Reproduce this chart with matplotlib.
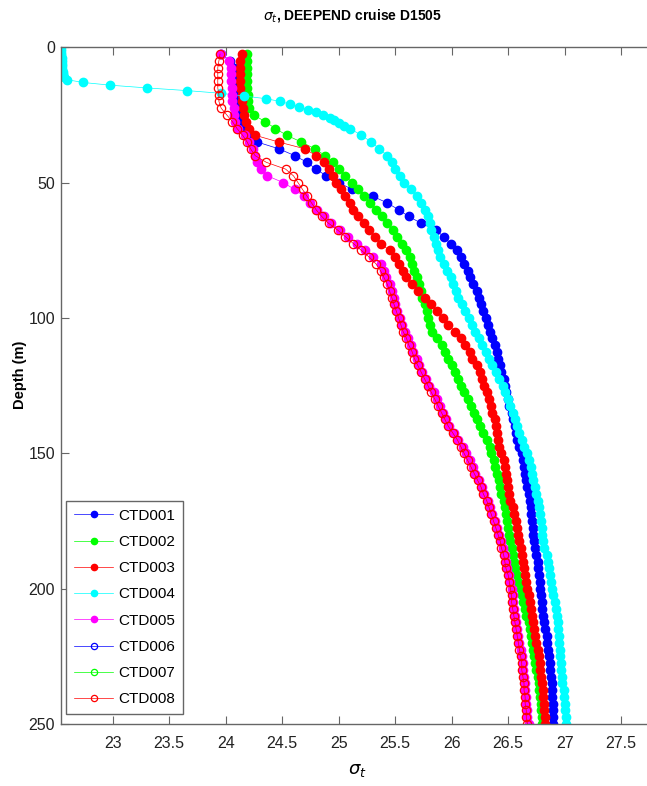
import matplotlib
matplotlib.use("Agg")
import matplotlib.pyplot as plt
from matplotlib import font_manager

# Police étroite type Arial Narrow si disponible
noms = {f.name for f in font_manager.fontManager.ttflist}
if 'Liberation Sans Narrow' in noms:
    police = ['Liberation Sans Narrow', 'DejaVu Sans']
else:
    police = ['Liberation Sans', 'DejaVu Sans']
plt.rcParams['font.family'] = police

# Profondeurs communes (m)
depth = [2.5, 5, 7.5, 10, 12.5, 15, 17.5, 20, 22.5, 25,
         27.5, 30, 32.5, 35, 37.5, 40, 42.5, 45, 47.5, 50,
         52.5, 55, 57.5, 60, 62.5, 65, 67.5, 70, 72.5, 75,
         77.5, 80, 82.5, 85, 87.5, 90, 92.5, 95, 97.5, 100,
         102.5, 105, 107.5, 110, 112.5, 115, 117.5, 120, 122.5, 125,
         127.5, 130, 132.5, 135, 137.5, 140, 142.5, 145, 147.5, 150,
         152.5, 155, 157.5, 160, 162.5, 165, 167.5, 170, 172.5, 175,
         177.5, 180, 182.5, 185, 187.5, 190, 192.5, 195, 197.5, 200,
         202.5, 205, 207.5, 210, 212.5, 215, 217.5, 220, 222.5, 225,
         227.5, 230, 232.5, 235, 237.5, 240, 242.5, 245, 247.5, 250]

sigma_001 = [23.96, 24.04, 24.07, 24.08, 24.08, 24.09, 24.10, 24.11, 24.12, 24.13,
             24.15, 24.18, 24.22, 24.28, 24.47, 24.61, 24.72, 24.80, 24.89, 25.00,
             25.12, 25.30, 25.43, 25.53, 25.62, 25.73, 25.86, 25.93, 25.99, 26.05,
             26.08, 26.11, 26.14, 26.16, 26.19, 26.22, 26.24, 26.26, 26.28, 26.30,
             26.32, 26.34, 26.36, 26.38, 26.40, 26.41, 26.43, 26.44, 26.46, 26.47,
             26.48, 26.50, 26.51, 26.53, 26.54, 26.56, 26.57, 26.58, 26.60, 26.62,
             26.63, 26.64, 26.65, 26.66, 26.67, 26.68, 26.69, 26.70, 26.70, 26.71,
             26.72, 26.72, 26.73, 26.74, 26.75, 26.76, 26.76, 26.77, 26.78, 26.78,
             26.79, 26.80, 26.80, 26.81, 26.82, 26.83, 26.84, 26.84, 26.85, 26.86,
             26.87, 26.87, 26.88, 26.89, 26.89, 26.89, 26.90, 26.90, 26.90, 26.90]

sigma_002 = [24.19, 24.19, 24.19, 24.19, 24.19, 24.19, 24.20, 24.20, 24.21, 24.25,
             24.35, 24.44, 24.54, 24.67, 24.79, 24.88, 24.95, 25.00, 25.06, 25.12,
             25.17, 25.22, 25.28, 25.33, 25.38, 25.43, 25.48, 25.52, 25.56, 25.60,
             25.63, 25.65, 25.67, 25.69, 25.71, 25.73, 25.74, 25.76, 25.78, 25.79,
             25.81, 25.83, 25.87, 25.91, 25.94, 25.97, 26.00, 26.03, 26.06, 26.08,
             26.11, 26.14, 26.17, 26.20, 26.22, 26.25, 26.28, 26.31, 26.34, 26.35,
             26.37, 26.38, 26.40, 26.42, 26.43, 26.44, 26.46, 26.47, 26.48, 26.49,
             26.50, 26.51, 26.52, 26.53, 26.54, 26.55, 26.56, 26.58, 26.59, 26.61,
             26.62, 26.63, 26.65, 26.66, 26.68, 26.69, 26.70, 26.71, 26.72, 26.73,
             26.74, 26.75, 26.76, 26.77, 26.77, 26.78, 26.79, 26.79, 26.80, 26.80]

sigma_003 = [24.14, 24.13, 24.13, 24.13, 24.13, 24.13, 24.14, 24.14, 24.15, 24.16,
             24.18, 24.21, 24.26, 24.47, 24.70, 24.80, 24.87, 24.91, 24.95, 24.98,
             25.02, 25.06, 25.10, 25.13, 25.17, 25.22, 25.27, 25.32, 25.37, 25.45,
             25.50, 25.53, 25.57, 25.60, 25.65, 25.70, 25.76, 25.82, 25.87, 25.92,
             25.97, 26.03, 26.08, 26.12, 26.16, 26.18, 26.22, 26.25, 26.27, 26.29,
             26.31, 26.33, 26.35, 26.36, 26.38, 26.39, 26.40, 26.41, 26.42, 26.44,
             26.46, 26.47, 26.48, 26.49, 26.50, 26.51, 26.52, 26.54, 26.55, 26.57,
             26.58, 26.59, 26.60, 26.61, 26.62, 26.63, 26.64, 26.65, 26.66, 26.67,
             26.68, 26.69, 26.70, 26.71, 26.72, 26.73, 26.74, 26.75, 26.76, 26.77,
             26.78, 26.78, 26.79, 26.80, 26.81, 26.81, 26.82, 26.82, 26.83, 26.83]

# CTD004 : bins de 1 m en surface, puis grille commune à partir de 30 m
depth_004 = [0, 1, 2, 3, 4, 5, 6, 7, 8, 9, 10, 11, 12, 13, 14,
             15, 16, 17, 18, 19, 20, 21, 22, 23, 24, 25, 26, 27, 28, 29] + depth[11:]
sigma_004 = [22.54, 22.54, 22.54, 22.54, 22.55, 22.55, 22.55, 22.55, 22.55, 22.56,
             22.56, 22.57, 22.60, 22.74, 22.98, 23.30, 23.66, 23.96, 24.16, 24.36,
             24.48, 24.57, 24.65, 24.73, 24.80, 24.86, 24.92, 24.96, 25.00, 25.05,
             25.10, 25.20, 25.29, 25.36, 25.43, 25.47, 25.50, 25.54, 25.58, 25.64,
             25.69, 25.73, 25.76, 25.79, 25.81, 25.82, 25.84, 25.86, 25.88, 25.90,
             25.93, 25.96, 25.99, 26.01, 26.04, 26.06, 26.09, 26.12, 26.15, 26.18,
             26.21, 26.24, 26.27, 26.30, 26.33, 26.36, 26.39, 26.42, 26.45, 26.47,
             26.50, 26.52, 26.54, 26.56, 26.58, 26.60, 26.62, 26.64, 26.67, 26.68,
             26.70, 26.71, 26.72, 26.74, 26.75, 26.76, 26.77, 26.78, 26.79, 26.80,
             26.80, 26.81, 26.82, 26.84, 26.85, 26.86, 26.87, 26.88, 26.89, 26.90,
             26.91, 26.92, 26.93, 26.94, 26.94, 26.95, 26.95, 26.96, 26.96, 26.97,
             26.97, 26.98, 26.98, 26.99, 26.99, 27.00, 27.00, 27.01, 27.01]

sigma_005 = [23.96, 24.03, 24.05, 24.05, 24.05, 24.06, 24.06, 24.06, 24.07, 24.07,
             24.08, 24.11, 24.17, 24.21, 24.24, 24.26, 24.28, 24.31, 24.37, 24.51,
             24.61, 24.69, 24.75, 24.81, 24.87, 24.93, 25.01, 25.08, 25.16, 25.23,
             25.30, 25.37, 25.40, 25.42, 25.45, 25.47, 25.49, 25.50, 25.52, 25.54,
             25.56, 25.59, 25.61, 25.64, 25.66, 25.69, 25.71, 25.74, 25.77, 25.80,
             25.84, 25.87, 25.90, 25.92, 25.95, 25.98, 26.02, 26.06, 26.10, 26.13,
             26.16, 26.19, 26.21, 26.24, 26.27, 26.29, 26.32, 26.34, 26.36, 26.38,
             26.40, 26.42, 26.44, 26.45, 26.47, 26.48, 26.49, 26.51, 26.52, 26.53,
             26.54, 26.54, 26.55, 26.56, 26.57, 26.58, 26.59, 26.60, 26.61, 26.62,
             26.63, 26.63, 26.64, 26.65, 26.65, 26.66, 26.66, 26.67, 26.67, 26.68]

# CTD006 et CTD007 : aucune donnée visible
sigma_006 = []
sigma_007 = []

sigma_008 = [23.95, 23.94, 23.93, 23.93, 23.93, 23.93, 23.94, 23.94, 23.96, 24.01,
             24.06, 24.10, 24.15, 24.19, 24.22, 24.26, 24.36, 24.53, 24.60, 24.64,
             24.68, 24.72, 24.76, 24.80, 24.85, 24.91, 24.99, 25.06, 25.13, 25.20,
             25.27, 25.33, 25.37, 25.40, 25.43, 25.45, 25.47, 25.49, 25.51, 25.53,
             25.55, 25.57, 25.60, 25.62, 25.65, 25.67, 25.70, 25.73, 25.76, 25.79,
             25.82, 25.85, 25.88, 25.91, 25.94, 25.97, 26.01, 26.05, 26.08, 26.11,
             26.14, 26.17, 26.20, 26.23, 26.26, 26.28, 26.31, 26.33, 26.35, 26.37,
             26.39, 26.41, 26.43, 26.44, 26.46, 26.47, 26.48, 26.50, 26.51, 26.52,
             26.53, 26.53, 26.54, 26.55, 26.56, 26.57, 26.58, 26.59, 26.60, 26.61,
             26.62, 26.62, 26.63, 26.64, 26.64, 26.65, 26.65, 26.66, 26.66, 26.67]

labels = ['CTD001', 'CTD002', 'CTD003', 'CTD004', 'CTD005', 'CTD006', 'CTD007', 'CTD008']
x_ticks = [23, 23.5, 24, 24.5, 25, 25.5, 26, 26.5, 27, 27.5]
y_ticks = [0, 50, 100, 150, 200, 250]

series = [
    (sigma_001, depth, 'b', True),
    (sigma_002, depth, (0, 1, 0), True),
    (sigma_003, depth, 'r', True),
    (sigma_004, depth_004, (0, 1, 1), True),
    (sigma_005, depth, (1, 0, 1), True),
    (sigma_006, [], 'b', False),
    (sigma_007, [], (0, 1, 0), False),
    (sigma_008, depth, 'r', False),
]

fig = plt.figure(figsize=(6.47, 7.86), dpi=100)
ax = fig.add_axes([60.7/647, 62/786, 617/647, 676.7/786])

for (s, z, c, plein), lab in zip(series, labels):
    if plein:
        ax.plot(s, z, '-o', color=c, lw=0.5, ms=6, mfc=c, mec=c, label=lab)
    else:
        ax.plot(s, z, '-o', color=c, lw=0.5, ms=6, mfc='none', mec=c, mew=0.9, label=lab)

ax.set_xlim(22.54, 28.0)
ax.set_ylim(250, 0)
ax.set_xticks(x_ticks)
ax.set_xticklabels([str(v) for v in x_ticks])
ax.set_yticks(y_ticks)

for cote in ['left', 'top', 'bottom']:
    ax.spines[cote].set_color('#666666')
    ax.spines[cote].set_linewidth(1)
ax.spines['right'].set_visible(False)
ax.tick_params(direction='in', top=True, length=6, width=0.8, color='#666666',
               labelsize=11.5, labelcolor='#222222')
ax.tick_params(axis='x', pad=9)
ax.tick_params(axis='y', pad=4)

ax.set_xlabel(r'$\sigma_t$', fontsize=13)
ax.xaxis.set_label_coords((357 - 60.7) / 617, -38 / 676.7)
ax.set_ylabel('Depth (m)', fontsize=10.5, fontweight='bold')
ax.yaxis.set_label_coords(-34 / 617, (724 - 375) / 676.7)
fig.text(352/647, 1 - 16/786, r'$\sigma_t$, DEEPEND cruise D1505', ha='center', va='center',
         fontsize=10, fontweight='bold')

leg = ax.legend(loc='lower left', bbox_to_anchor=(66/647, (786-714)/786),
                bbox_transform=fig.transFigure, borderaxespad=0, fontsize=11,
                handlelength=2.6, handletextpad=0.35, labelspacing=0.8,
                borderpad=0.5, fancybox=False, framealpha=1, markerscale=0.75)
leg.get_frame().set_edgecolor('#666666')
leg.get_frame().set_linewidth(1)

plt.savefig('out.png', dpi=100)
